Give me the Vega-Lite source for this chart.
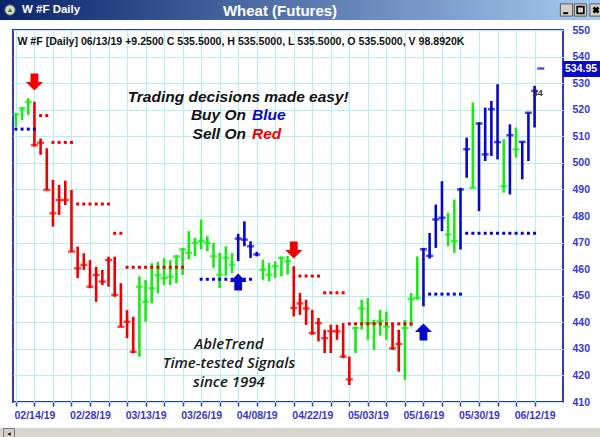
{
  "$schema": "https://vega.github.io/schema/vega-lite/v6.json",
  "padding": 0,
  "background": "white",
  "spacing": 4,
  "config": {"view": {"stroke": null}, "font": "Liberation Sans", "axis": {"labelOverlap": false, "labelFlush": false}},
  "datasets": {
    "bars": [
      {"date":"02/11/19","i":0,"h":518.7,"l":513.6,"c":518.3,"trend":"flat"},
      {"date":"02/12/19","i":1,"h":521.1,"l":516.1,"c":520.5,"trend":"flat"},
      {"date":"02/13/19","i":2,"h":524.3,"l":518.0,"c":522.9,"trend":"flat"},
      {"date":"02/14/19","i":3,"h":523.0,"l":506.1,"c":506.7,"trend":"down"},
      {"date":"02/15/19","i":4,"h":509.2,"l":503.0,"c":507.6,"trend":"down"},
      {"date":"02/19/19","i":5,"h":505.5,"l":489.8,"c":489.8,"trend":"down"},
      {"date":"02/20/19","i":6,"h":493.6,"l":476.0,"c":481.0,"trend":"down"},
      {"date":"02/21/19","i":7,"h":491.7,"l":480.4,"c":486.0,"trend":"down"},
      {"date":"02/22/19","i":8,"h":493.3,"l":484.1,"c":486.0,"trend":"down"},
      {"date":"02/25/19","i":9,"h":489.8,"l":466.6,"c":466.6,"trend":"down"},
      {"date":"02/26/19","i":10,"h":468.5,"l":456.6,"c":460.3,"trend":"down"},
      {"date":"02/27/19","i":11,"h":466.0,"l":459.7,"c":461.6,"trend":"down"},
      {"date":"02/28/19","i":12,"h":463.4,"l":452.8,"c":453.4,"trend":"down"},
      {"date":"03/01/19","i":13,"h":460.9,"l":447.7,"c":457.8,"trend":"down"},
      {"date":"03/04/19","i":14,"h":459.7,"l":454.0,"c":455.3,"trend":"down"},
      {"date":"03/05/19","i":15,"h":464.7,"l":453.4,"c":463.4,"trend":"down"},
      {"date":"03/06/19","i":16,"h":464.7,"l":449.6,"c":450.3,"trend":"down"},
      {"date":"03/07/19","i":17,"h":454.7,"l":438.3,"c":438.3,"trend":"down"},
      {"date":"03/08/19","i":18,"h":444.6,"l":434.0,"c":440.2,"trend":"down"},
      {"date":"03/11/19","i":19,"h":442.1,"l":428.3,"c":428.9,"trend":"down"},
      {"date":"03/12/19","i":20,"h":457.3,"l":427.0,"c":453.4,"trend":"flat"},
      {"date":"03/13/19","i":21,"h":455.9,"l":440.2,"c":447.7,"trend":"flat"},
      {"date":"03/14/19","i":22,"h":462.2,"l":447.1,"c":452.8,"trend":"flat"},
      {"date":"03/15/19","i":23,"h":462.8,"l":450.9,"c":457.8,"trend":"flat"},
      {"date":"03/18/19","i":24,"h":464.1,"l":454.0,"c":456.6,"trend":"flat"},
      {"date":"03/19/19","i":25,"h":463.4,"l":454.0,"c":457.2,"trend":"flat"},
      {"date":"03/20/19","i":26,"h":465.3,"l":454.7,"c":464.7,"trend":"flat"},
      {"date":"03/21/19","i":27,"h":468.0,"l":457.8,"c":467.4,"trend":"flat"},
      {"date":"03/22/19","i":28,"h":474.3,"l":463.6,"c":466.1,"trend":"flat"},
      {"date":"03/25/19","i":29,"h":471.8,"l":464.8,"c":469.9,"trend":"flat"},
      {"date":"03/26/19","i":30,"h":478.7,"l":467.4,"c":470.5,"trend":"flat"},
      {"date":"03/27/19","i":31,"h":472.4,"l":466.7,"c":469.9,"trend":"flat"},
      {"date":"03/28/19","i":32,"h":469.9,"l":460.5,"c":464.8,"trend":"flat"},
      {"date":"03/29/19","i":33,"h":466.1,"l":452.9,"c":457.9,"trend":"flat"},
      {"date":"04/01/19","i":34,"h":468.6,"l":457.5,"c":464.2,"trend":"flat"},
      {"date":"04/02/19","i":35,"h":466.1,"l":458.5,"c":461.7,"trend":"flat"},
      {"date":"04/03/19","i":36,"h":473.3,"l":463.0,"c":471.5,"trend":"up"},
      {"date":"04/04/19","i":37,"h":478.0,"l":468.6,"c":471.1,"trend":"up"},
      {"date":"04/05/19","i":38,"h":470.5,"l":464.2,"c":468.6,"trend":"up"},
      {"date":"04/08/19","i":39,"h":466.5,"l":464.8,"c":465.5,"trend":"up"},
      {"date":"04/09/19","i":40,"h":463.6,"l":456.0,"c":459.8,"trend":"flat"},
      {"date":"04/10/19","i":41,"h":462.3,"l":455.4,"c":457.9,"trend":"flat"},
      {"date":"04/11/19","i":42,"h":462.9,"l":456.7,"c":461.1,"trend":"flat"},
      {"date":"04/12/19","i":43,"h":464.8,"l":457.3,"c":464.2,"trend":"flat"},
      {"date":"04/15/19","i":44,"h":465.0,"l":458.0,"c":463.0,"trend":"flat"},
      {"date":"04/16/19","i":45,"h":461.1,"l":442.2,"c":445.4,"trend":"down"},
      {"date":"04/17/19","i":46,"h":451.0,"l":442.8,"c":447.1,"trend":"down"},
      {"date":"04/18/19","i":47,"h":448.5,"l":439.0,"c":445.2,"trend":"down"},
      {"date":"04/22/19","i":48,"h":444.7,"l":435.3,"c":435.9,"trend":"down"},
      {"date":"04/23/19","i":49,"h":441.6,"l":432.8,"c":439.7,"trend":"down"},
      {"date":"04/24/19","i":50,"h":437.2,"l":428.4,"c":434.0,"trend":"down"},
      {"date":"04/25/19","i":51,"h":439.1,"l":428.4,"c":436.6,"trend":"down"},
      {"date":"04/26/19","i":52,"h":439.1,"l":433.4,"c":436.6,"trend":"down"},
      {"date":"04/29/19","i":53,"h":439.7,"l":426.5,"c":427.1,"trend":"down"},
      {"date":"04/30/19","i":54,"h":427.1,"l":416.4,"c":418.5,"trend":"down"},
      {"date":"05/01/19","i":55,"h":438.4,"l":428.4,"c":437.8,"trend":"flat"},
      {"date":"05/02/19","i":56,"h":448.5,"l":437.2,"c":445.2,"trend":"flat"},
      {"date":"05/03/19","i":57,"h":449.1,"l":433.4,"c":439.7,"trend":"flat"},
      {"date":"05/06/19","i":58,"h":441.0,"l":429.6,"c":439.7,"trend":"flat"},
      {"date":"05/07/19","i":59,"h":444.7,"l":435.0,"c":440.5,"trend":"flat"},
      {"date":"05/08/19","i":60,"h":444.1,"l":433.4,"c":438.4,"trend":"flat"},
      {"date":"05/09/19","i":61,"h":439.7,"l":429.6,"c":430.2,"trend":"down"},
      {"date":"05/10/19","i":62,"h":437.2,"l":421.4,"c":431.8,"trend":"down"},
      {"date":"05/13/19","i":63,"h":440.9,"l":418.3,"c":437.8,"trend":"flat"},
      {"date":"05/14/19","i":64,"h":451.0,"l":438.4,"c":448.8,"trend":"flat"},
      {"date":"05/15/19","i":65,"h":464.8,"l":448.5,"c":449.1,"trend":"flat"},
      {"date":"05/16/19","i":66,"h":468.0,"l":446.0,"c":467.5,"trend":"up"},
      {"date":"05/17/19","i":67,"h":473.6,"l":464.0,"c":465.0,"trend":"up"},
      {"date":"05/20/19","i":68,"h":484.3,"l":468.0,"c":478.7,"trend":"up"},
      {"date":"05/21/19","i":69,"h":493.1,"l":474.3,"c":479.3,"trend":"up"},
      {"date":"05/22/19","i":70,"h":481.2,"l":468.6,"c":473.0,"trend":"flat"},
      {"date":"05/23/19","i":71,"h":486.2,"l":466.1,"c":470.5,"trend":"flat"},
      {"date":"05/24/19","i":72,"h":490.6,"l":467.4,"c":490.0,"trend":"up"},
      {"date":"05/28/19","i":73,"h":509.5,"l":494.4,"c":505.1,"trend":"up"},
      {"date":"05/29/19","i":74,"h":522.7,"l":490.6,"c":490.6,"trend":"flat"},
      {"date":"05/30/19","i":75,"h":515.2,"l":481.8,"c":514.8,"trend":"up"},
      {"date":"05/31/19","i":76,"h":520.8,"l":500.7,"c":503.2,"trend":"up"},
      {"date":"06/03/19","i":77,"h":523.3,"l":502.6,"c":520.2,"trend":"up"},
      {"date":"06/04/19","i":78,"h":529.6,"l":501.3,"c":507.8,"trend":"up"},
      {"date":"06/05/19","i":79,"h":508.9,"l":488.8,"c":491.2,"trend":"flat"},
      {"date":"06/06/19","i":80,"h":514.5,"l":488.1,"c":510.4,"trend":"up"},
      {"date":"06/07/19","i":81,"h":513.3,"l":502.0,"c":505.1,"trend":"flat"},
      {"date":"06/10/19","i":82,"h":508.2,"l":493.8,"c":507.9,"trend":"up"},
      {"date":"06/11/19","i":83,"h":518.9,"l":500.7,"c":518.9,"trend":"up"},
      {"date":"06/12/19","i":84,"h":529.0,"l":513.3,"c":527.1,"trend":"up"},
      {"date":"06/13/19","i":85,"h":535.5,"l":535.5,"c":535.5,"trend":"up"}
    ],
    "stops": [
      {"i":0,"p":512.7,"trend":"up"},{"i":1,"p":512.7,"trend":"up"},{"i":2,"p":512.7,"trend":"up"},{"i":3,"p":512.7,"trend":"up"},
      {"i":4,"p":517.8,"trend":"down"},{"i":5,"p":517.8,"trend":"down"},
      {"i":6,"p":507.7,"trend":"down"},{"i":7,"p":507.7,"trend":"down"},{"i":8,"p":507.7,"trend":"down"},{"i":9,"p":507.7,"trend":"down"},
      {"i":10,"p":484.5,"trend":"down"},{"i":11,"p":484.5,"trend":"down"},{"i":12,"p":484.5,"trend":"down"},{"i":13,"p":484.5,"trend":"down"},{"i":14,"p":484.5,"trend":"down"},{"i":15,"p":484.5,"trend":"down"},
      {"i":16,"p":473.5,"trend":"down"},{"i":17,"p":473.5,"trend":"down"},
      {"i":18,"p":460.7,"trend":"down"},{"i":19,"p":460.7,"trend":"down"},{"i":20,"p":460.7,"trend":"down"},{"i":21,"p":460.7,"trend":"down"},{"i":22,"p":460.7,"trend":"down"},{"i":23,"p":460.7,"trend":"down"},{"i":24,"p":460.7,"trend":"down"},{"i":25,"p":460.7,"trend":"down"},{"i":26,"p":460.7,"trend":"down"},{"i":27,"p":460.7,"trend":"down"},
      {"i":30,"p":456.2,"trend":"up"},{"i":31,"p":456.2,"trend":"up"},{"i":32,"p":456.2,"trend":"up"},{"i":33,"p":456.2,"trend":"up"},{"i":34,"p":456.2,"trend":"up"},{"i":35,"p":456.2,"trend":"up"},{"i":36,"p":456.2,"trend":"up"},{"i":37,"p":456.2,"trend":"up"},{"i":38,"p":456.2,"trend":"up"},
      {"i":46,"p":457.4,"trend":"down"},{"i":47,"p":457.4,"trend":"down"},{"i":48,"p":457.4,"trend":"down"},{"i":49,"p":457.4,"trend":"down"},
      {"i":50,"p":451.1,"trend":"down"},{"i":51,"p":451.1,"trend":"down"},{"i":52,"p":451.1,"trend":"down"},{"i":53,"p":451.1,"trend":"down"},
      {"i":54,"p":439.4,"trend":"down"},{"i":55,"p":439.4,"trend":"down"},{"i":56,"p":439.4,"trend":"down"},{"i":57,"p":439.4,"trend":"down"},{"i":58,"p":439.4,"trend":"down"},{"i":59,"p":439.4,"trend":"down"},{"i":60,"p":439.4,"trend":"down"},{"i":61,"p":439.4,"trend":"down"},{"i":62,"p":439.4,"trend":"down"},{"i":63,"p":439.4,"trend":"down"},{"i":64,"p":439.4,"trend":"down"},
      {"i":67,"p":450.6,"trend":"up"},{"i":68,"p":450.6,"trend":"up"},{"i":69,"p":450.6,"trend":"up"},{"i":70,"p":450.6,"trend":"up"},{"i":71,"p":450.6,"trend":"up"},{"i":72,"p":450.6,"trend":"up"},
      {"i":73,"p":473.5,"trend":"up"},{"i":74,"p":473.5,"trend":"up"},{"i":75,"p":473.5,"trend":"up"},{"i":76,"p":473.5,"trend":"up"},{"i":77,"p":473.5,"trend":"up"},{"i":78,"p":473.5,"trend":"up"},{"i":79,"p":473.5,"trend":"up"},{"i":80,"p":473.5,"trend":"up"},{"i":81,"p":473.5,"trend":"up"},{"i":82,"p":473.5,"trend":"up"},{"i":83,"p":473.5,"trend":"up"},{"i":84,"p":473.5,"trend":"up"}
    ],
    "arrows": [
      {"i":3,"p":530.4,"trend":"down"},
      {"i":45,"p":467.2,"trend":"down"},
      {"i":36,"p":455.2,"trend":"up"},
      {"i":66,"p":436.3,"trend":"up"}
    ]
  },
  "vconcat": [
    {
      "width": 600,
      "height": 20,
      "view": {"stroke": null},
      "data": {"values": [{"name": "Wheat (Futures)", "window": "W #F Daily"}]},
      "layer": [
        {"mark": {"type": "rect", "color": {"gradient": "linear", "x1": 0, "y1": 0, "x2": 1, "y2": 0, "stops": [{"offset": 0, "color": "#0a246a"}, {"offset": 1, "color": "#a6caf0"}]}}, "encoding": {}},
        {"mark": {"type": "point", "shape": "circle", "size": 110, "filled": true, "opacity": 1, "color": "#d8d8d8", "stroke": "#555555", "strokeWidth": 1, "xOffset": -290}, "encoding": {}},
        {"mark": {"type": "point", "shape": "triangle-up", "size": 22, "filled": true, "opacity": 1, "color": "#1f9a1f", "xOffset": -290}, "encoding": {}},
        {"mark": {"type": "point", "shape": "square", "size": 150, "filled": true, "opacity": 1, "color": "#d4d0c8", "stroke": "#404040", "strokeWidth": 0.8, "xOffset": 266.5}, "encoding": {}},
        {"mark": {"type": "point", "shape": "square", "size": 150, "filled": true, "opacity": 1, "color": "#d4d0c8", "stroke": "#404040", "strokeWidth": 0.8, "xOffset": 280.5}, "encoding": {}},
        {"mark": {"type": "point", "shape": "square", "size": 150, "filled": true, "opacity": 1, "color": "#d4d0c8", "stroke": "#404040", "strokeWidth": 0.8, "xOffset": 296}, "encoding": {}},
        {"mark": {"type": "point", "shape": "M-0.6,0.4H0.3V0.75H-0.6Z", "size": 120, "filled": true, "opacity": 1, "color": "#000000", "xOffset": 266.5}, "encoding": {}},
        {"mark": {"type": "point", "shape": "square", "size": 45, "filled": false, "opacity": 1, "color": "#000000", "strokeWidth": 1.6, "xOffset": 280.5}, "encoding": {}},
        {"mark": {"type": "point", "shape": "cross", "angle": 45, "size": 50, "filled": true, "opacity": 1, "color": "#000000", "xOffset": 296}, "encoding": {}},
        {"mark": {"type": "text", "align": "left", "dx": -278, "font": "Liberation Sans", "fontSize": 11.5, "fontWeight": "bold", "color": "white"}, "encoding": {"text": {"field": "window"}}},
        {"mark": {"type": "text", "dx": -20, "dy": 1, "font": "Liberation Sans", "fontSize": 15, "fontWeight": "bold", "color": "white"}, "encoding": {"text": {"field": "name"}}}
      ]
    },
    {
      "spacing": 8,
      "hconcat": [
        {
          "width": 3,
          "height": 372,
          "view": {"stroke": null},
          "data": {"values": [{}]},
          "mark": {"type": "rect", "color": "white"},
          "encoding": {}
        },
        {
          "width": 550,
          "height": 372,
          "view": {"stroke": "#3434c8", "strokeWidth": 2, "fill": "white"},
          "title": {"text": "W #F [Daily] 06/13/19  +9.2500 C 535.5000, H 535.5000, L 535.5000, O 535.5000, V 98.8920K", "anchor": "start", "offset": -23, "dx": 5, "font": "Liberation Sans", "fontSize": 10.6, "fontWeight": "bold", "color": "#111111"},
          "resolve": {"axis": {"y": "independent"}},
          "encoding": {
            "x": {"field": "i", "type": "quantitative", "scale": {"domain": [-0.47, 88.6], "nice": false, "zero": false},
              "axis": {"orient": "bottom", "title": null, "values": [0,3,6,9,12,15,18,21,24,27,30,33,36,39,42,45,48,51,54,57,60,63,66,69,72,75,78,81,84],
                "labelExpr": "(datum.value - 3) % 9 == 0 ? ['02/14/19','02/28/19','03/13/19','03/26/19','04/08/19','04/22/19','05/03/19','05/16/19','05/30/19','06/12/19'][(datum.value - 3) / 9] : ''",
                "grid": true, "gridColor": "#b4f0f0", "gridWidth": 1, "domain": false, "ticks": true, "tickSize": 4, "tickWidth": 1.5, "tickColor": "#3434c8",
                "labelFont": "Liberation Sans", "labelFontSize": 10.5, "labelFontWeight": "bold", "labelColor": "#3838cc", "labelPadding": 4, "labelOverlap": false, "labelFlush": false, "labelBound": false}}
          },
          "layer": [
            {
              "data": {"name": "bars"},
              "mark": {"type": "rule", "strokeWidth": 2.6},
              "encoding": {
                "y": {"field": "l", "type": "quantitative", "scale": {"domain": [410, 550], "nice": false, "zero": false},
                  "axis": {"orient": "right", "title": null, "values": [410,420,430,440,450,460,470,480,490,500,510,520,530,540,550],
                    "grid": true, "gridColor": "#b4f0f0", "gridWidth": 1, "domain": false, "ticks": false, "tickSize": 0,
                    "labelFont": "Liberation Sans", "labelFontSize": 10.5, "labelFontWeight": "bold", "labelColor": "#3838cc", "labelPadding": 9, "labelAlign": "left", "labelBaseline": "middle", "labelOverlap": false, "labelFlush": false, "labelBound": false}},
                "y2": {"field": "h"},
                "color": {"field": "trend", "type": "nominal", "scale": {"domain": ["up", "down", "flat"], "range": ["#0606cc", "#ee0000", "#18ea18"]}, "legend": null}
              }
            },
            {
              "data": {"name": "bars"},
              "mark": {"type": "tick", "orient": "horizontal", "size": 7, "thickness": 2.5},
              "encoding": {
                "y": {"field": "c", "type": "quantitative", "axis": null},
                "color": {"field": "trend", "type": "nominal", "legend": null}
              }
            },
            {
              "data": {"name": "stops"},
              "mark": {"type": "point", "shape": "square", "size": 9, "filled": true, "opacity": 1},
              "encoding": {
                "y": {"field": "p", "type": "quantitative", "axis": null},
                "color": {"field": "trend", "type": "nominal", "legend": null}
              }
            },
            {
              "data": {"name": "arrows"},
              "mark": {"type": "point", "size": 289, "filled": true, "opacity": 1},
              "encoding": {
                "y": {"field": "p", "type": "quantitative", "axis": null},
                "color": {"field": "trend", "type": "nominal", "legend": null},
                "shape": {"field": "trend", "type": "nominal", "scale": {"domain": ["up", "down"], "range": ["M-0.46,1V0H-1L0,-1L1,0H0.46V1Z", "M-0.46,-1H0.46V0H1L0,1L-1,0H-0.46Z"]}, "legend": null}
              }
            },
            {
              "data": {"values": [{"i": 36.0, "p": 524.6, "t": "Trading decisions made easy!"}]},
              "mark": {"type": "text", "font": "Liberation Sans", "fontSize": 15.5, "fontWeight": "bold", "fontStyle": "italic", "color": "#111111"},
              "encoding": {
                "y": {"field": "p", "type": "quantitative", "axis": null},
                "text": {"field": "t"}
              }
            },
            {
              "data": {"values": [{"i": 37.75, "p": 518.0, "t": "Buy On"}, {"i": 37.75, "p": 510.9, "t": "Sell On"}]},
              "mark": {"type": "text", "align": "right", "dx": -3, "font": "Liberation Sans", "fontSize": 15.5, "fontWeight": "bold", "fontStyle": "italic", "color": "#111111"},
              "encoding": {
                "y": {"field": "p", "type": "quantitative", "axis": null},
                "text": {"field": "t"}
              }
            },
            {
              "data": {"values": [{"i": 37.75, "p": 518.0, "t": "Blue", "trend": "up"}, {"i": 37.75, "p": 510.9, "t": "Red", "trend": "down"}]},
              "mark": {"type": "text", "align": "left", "dx": 3, "font": "Liberation Sans", "fontSize": 15.5, "fontWeight": "bold", "fontStyle": "italic"},
              "encoding": {
                "y": {"field": "p", "type": "quantitative", "axis": null},
                "text": {"field": "t"},
                "color": {"field": "trend", "type": "nominal", "legend": null}
              }
            },
            {
              "data": {"values": [{"i": 34.5, "p": 431.75, "t": "AbleTrend\nTime-tested Signals\nsince 1994"}]},
              "mark": {"type": "text", "lineBreak": "\n", "lineHeight": 18.8, "font": "Open Sans", "fontSize": 15, "fontWeight": 600, "fontStyle": "italic", "color": "#1a1a1a"},
              "encoding": {
                "y": {"field": "p", "type": "quantitative", "axis": null},
                "text": {"field": "t"}
              }
            },
            {
              "data": {"values": [{"i": 84.5, "p": 526.2, "t": "34"}]},
              "mark": {"type": "text", "font": "Liberation Sans", "fontSize": 9, "fontWeight": "bold", "color": "#333333"},
              "encoding": {
                "y": {"field": "p", "type": "quantitative", "axis": null},
                "text": {"field": "t"}
              }
            },
            {
              "data": {"values": [{"p": 534.95, "t": "534.95"}]},
              "mark": {"type": "point", "shape": "M0,-0.42H2V0.42H0Z", "size": 1444, "filled": true, "opacity": 1, "color": "#0a0ac8", "yOffset": -1},
              "encoding": {
                "x": {"value": "width"},
                "y": {"field": "p", "type": "quantitative", "axis": null}
              }
            },
            {
              "data": {"values": [{"p": 534.95, "t": "534.95"}]},
              "mark": {"type": "text", "align": "left", "dx": 2, "yOffset": -1, "font": "Liberation Sans", "fontSize": 10.5, "fontWeight": "bold", "color": "white"},
              "encoding": {
                "x": {"value": "width"},
                "y": {"field": "p", "type": "quantitative", "axis": null},
                "text": {"field": "t"}
              }
            }
          ]
        }
      ]
    },
    {
      "width": 600,
      "height": 12,
      "view": {"stroke": null},
      "data": {"values": [{}]},
      "layer": [
        {"mark": {"type": "rect", "color": "#d8d5cf"}, "encoding": {}},
        {"mark": {"type": "point", "shape": "square", "size": 121, "filled": true, "opacity": 1, "color": "#d4d0c8", "stroke": "#606060", "strokeWidth": 0.8, "xOffset": -291}, "encoding": {}},
        {"mark": {"type": "point", "shape": "triangle-left", "size": 14, "filled": true, "opacity": 1, "color": "#000000", "xOffset": -291}, "encoding": {}}
      ]
    }
  ]
}
